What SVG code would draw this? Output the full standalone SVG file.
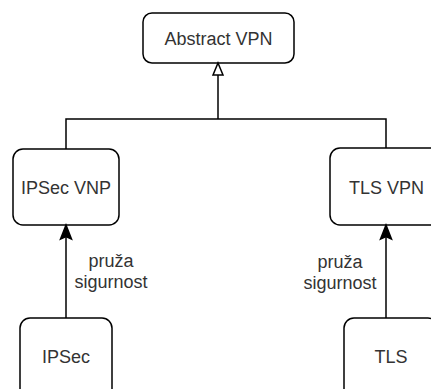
<svg xmlns="http://www.w3.org/2000/svg" width="431" height="389" viewBox="0 0 431 389">
<style>
.box{fill:#fff;stroke:#000;stroke-width:1.5}
.lbl{font-family:"Liberation Sans",Arial,sans-serif;font-size:18px;fill:#333;text-anchor:middle}
.edge{fill:none;stroke:#000;stroke-width:1.5}
</style>
<rect width="431" height="389" fill="#fff"/>
<g id="abstract-vpn"><rect class="box" x="143" y="13" width="151" height="50" rx="9"/><text class="lbl" x="218.5" y="45">Abstract VPN</text></g>
<g id="ipsec-vnp"><rect class="box" x="13" y="149" width="106" height="76" rx="10"/><text class="lbl" x="66" y="194">IPSec VNP</text></g>
<g id="tls-vpn"><rect class="box" x="330" y="148" width="112" height="77" rx="10"/><text class="lbl" x="386.5" y="194">TLS VPN</text></g>
<g id="ipsec"><rect class="box" x="20" y="318" width="92" height="90" rx="10"/><text class="lbl" x="66" y="363">IPSec</text></g>
<g id="tls"><rect class="box" x="344" y="318" width="94" height="90" rx="10"/><text class="lbl" x="391" y="363">TLS</text></g>
<g id="connectors">
<path class="edge" d="M66 149 V119 H386 V148"/>
<path class="edge" d="M218 119 V75"/>
<path d="M218 63 L223 75 L213 75 Z" fill="#fff" stroke="#000" stroke-width="1.5"/>
<path class="edge" d="M66 318 V236"/>
<path d="M66 225 L71.5 239 L66 236.5 L60.5 239 Z" fill="#000" stroke="#000" stroke-width="1.5"/>
<path class="edge" d="M386 318 V236"/>
<path d="M386 225 L391.5 239 L386 236.5 L380.5 239 Z" fill="#000" stroke="#000" stroke-width="1.5"/>
<text class="lbl" x="111" y="267">pruža</text>
<text class="lbl" x="111" y="288">sigurnost</text>
<text class="lbl" x="340" y="268">pruža</text>
<text class="lbl" x="340" y="289">sigurnost</text>
</g>
</svg>
